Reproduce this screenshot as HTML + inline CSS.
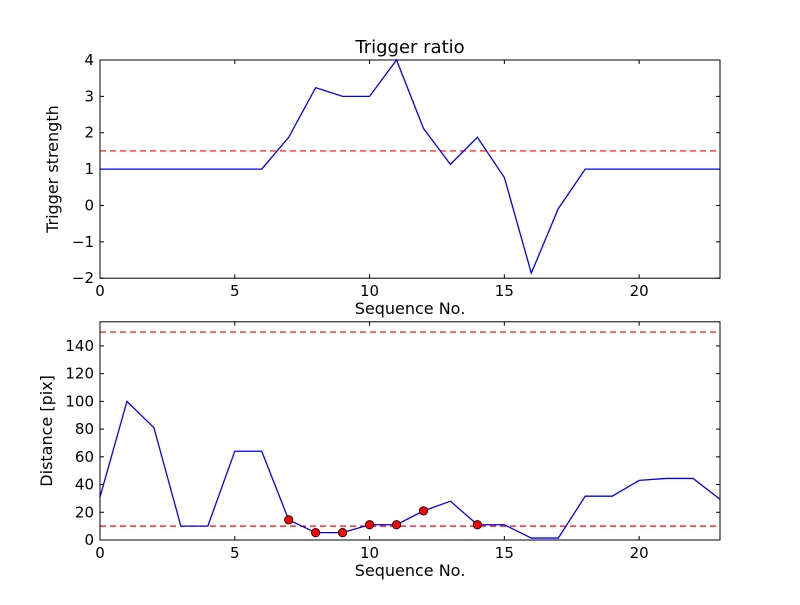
<!DOCTYPE html>
<html><head><meta charset="utf-8"><style>body{margin:0;background:#fff}svg text{font-family:"DejaVu Sans","Liberation Sans",sans-serif}</style></head>
<body>
<svg id="fig" width="800" height="600" xmlns="http://www.w3.org/2000/svg"></svg>
<script>
const seq = [0,1,2,3,4,5,6,7,8,9,10,11,12,13,14,15,16,17,18,19,20,21,22,23];
const strength = [1,1,1,1,1,1,1,1.875,3.24,3,3,4,2.12,1.13,1.875,0.77,-1.86,-0.09,1,1,1,1,1,1];
const strengthThreshold = 1.5;
const distance = [31,100,81,10,10,64,64,14.5,5.3,5.3,11,11,21,28,11,11,1.4,1.4,31.6,31.6,43,44.4,44.4,29.4];
const markedIdx = [7,8,9,10,11,12,14];
const distThresholds = [150,10];
const xTicks = [0,5,10,15,20];
const topYTicks = [-2,-1,0,1,2,3,4];
const botYTicks = [0,20,40,60,80,100,120,140];

const svg = document.getElementById('fig');
const NS = 'http://www.w3.org/2000/svg';
function mk(tag, attrs, parent){const e=document.createElementNS(NS,tag);for(const k in attrs)e.setAttribute(k,attrs[k]);(parent||svg).appendChild(e);return e;}

function axes(name, top, bottom, ymin, ymax, yticks, ylabel, fmt){
  const L=100,R=720,xmin=0,xmax=23;
  const g=mk('g',{});
  
  
  const sx=v=>L+(v-xmin)/(xmax-xmin)*(R-L);
  const sy=v=>bottom-(v-ymin)/(ymax-ymin)*(bottom-top);
  xTicks.forEach(t=>{
    const x=sx(t);
    mk('line',{x1:x,x2:x,y1:bottom,y2:bottom-4,stroke:'#000'},g);
    mk('line',{x1:x,x2:x,y1:top,y2:top+4,stroke:'#000'},g);
    const tx=mk('text',{x:x,y:bottom+18,'text-anchor':'middle','font-size':'15'},g);
    tx.textContent=t;
    
    
  });
  yticks.forEach(t=>{
    const y=sy(t);
    mk('line',{x1:L,x2:L+4,y1:y,y2:y,stroke:'#000'},g);
    mk('line',{x1:R,x2:R-4,y1:y,y2:y,stroke:'#000'},g);
    const tx=mk('text',{x:L-6,y:y+5,'text-anchor':'end','font-size':'15'},g);
    tx.textContent=fmt(t);
    
    
  });
  const xl=mk('text',{x:(L+R)/2,y:bottom+36,'text-anchor':'middle','font-size':'16'},g);
  xl.textContent='Sequence No.';
  
  
  const cy=(top+bottom)/2;
  const yl=mk('text',{x:0,y:0,'text-anchor':'middle','font-size':'16',transform:`translate(${name==='top-axes'?58:52},${cy}) rotate(-90)`},g);
  yl.textContent=ylabel;
  
  
  return {g,sx,sy,L,R,top,bottom};
}
function frame(a){
  const r=mk('rect',{x:a.L,y:a.top,width:a.R-a.L,height:a.bottom-a.top,fill:'none',stroke:'#000','stroke-width':1},a.g);
  
  
}
function hline(a,v){
  const l=mk('line',{x1:a.L,x2:a.R,y1:a.sy(v),y2:a.sy(v),stroke:'#f00','stroke-width':1.2,'stroke-dasharray':'6,4'},a.g);
  
  
}
function line(a,vals){
  const p=mk('polyline',{points:vals.map((v,i)=>a.sx(seq[i])+','+a.sy(v)).join(' '),fill:'none',stroke:'#00f','stroke-width':1.3},a.g);
  
  
}

// top
const A=axes('top-axes',60,278.2,-2,4,topYTicks,'Trigger strength',t=>t<0?'\u2212'+(-t):''+t);
hline(A,strengthThreshold);
line(A,strength);
frame(A);
const title=mk('text',{x:410,y:53,'text-anchor':'middle','font-size':'18'});
title.textContent='Trigger ratio';



// bottom
const B=axes('bottom-axes',321.8,540,0,157.4,botYTicks,'Distance [pix]',t=>''+t);
distThresholds.forEach(v=>hline(B,v));
line(B,distance);
markedIdx.forEach(i=>{
  const c=mk('circle',{cx:B.sx(seq[i]),cy:B.sy(distance[i]),r:4.2,fill:'#f00',stroke:'#000','stroke-width':0.8},B.g);
  
  
});
frame(B);
</script>
</body></html>
